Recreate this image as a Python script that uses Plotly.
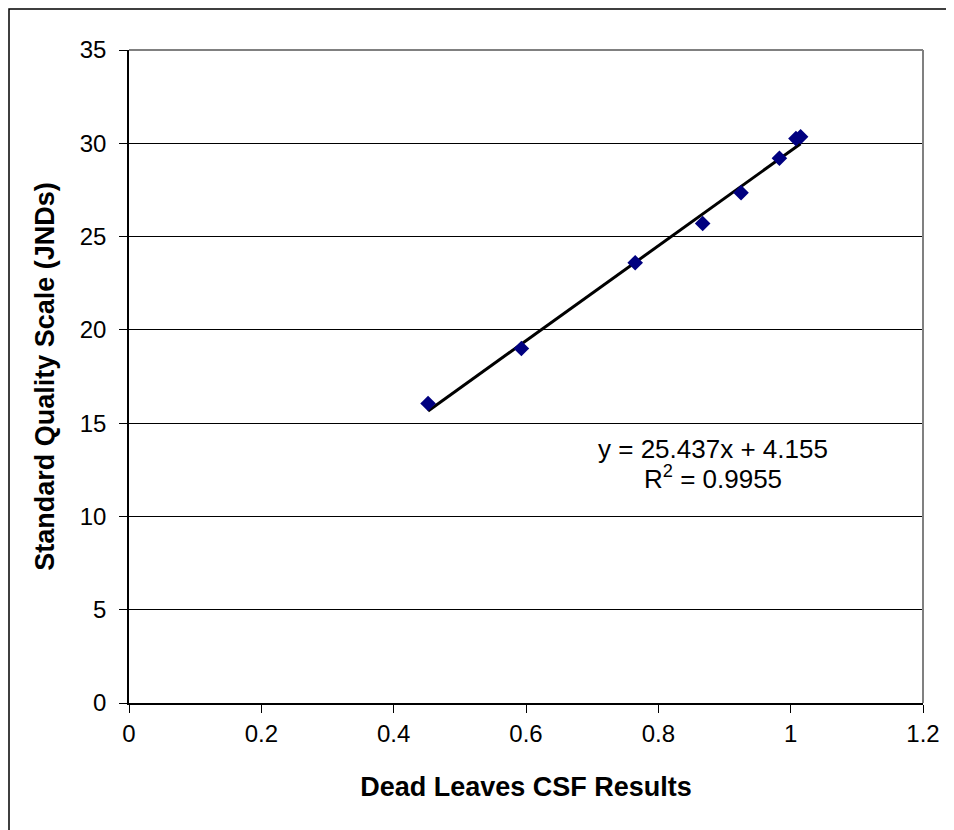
import plotly.graph_objects as go

# ---- data ----
csf_results = [0.452, 0.593, 0.765, 0.867, 0.925, 0.983, 1.008, 1.015]
quality_jnd = [16.05, 19.0, 23.6, 25.7, 27.35, 29.2, 30.25, 30.35]
slope = 25.437
intercept = 4.155
r_squared = 0.9955
x_ticks = [0, 0.2, 0.4, 0.6, 0.8, 1.0, 1.2]
y_ticks = [0, 5, 10, 15, 20, 25, 30, 35]

x_title = "Dead Leaves CSF Results"
y_title = "Standard Quality Scale (JNDs)"
eq_text = f"y = {slope}x + {intercept}"
r2_text = f"R<sup>2</sup> = {r_squared}"

FONT = "Liberation Sans, Arial, sans-serif"

# trendline over data range
x_fit = [min(csf_results), max(csf_results)]
y_fit = [slope * v + intercept for v in x_fit]

fig = go.Figure()
fig.add_trace(go.Scatter(x=x_fit, y=y_fit, mode="lines",
                         line=dict(color="black", width=3),
                         hoverinfo="skip", showlegend=False))
fig.add_trace(go.Scatter(x=csf_results, y=quality_jnd, mode="markers",
                         marker=dict(symbol="diamond", size=12, color="#000080",
                                     line=dict(width=0)),
                         showlegend=False))

W, H = 946, 822
L, R, T, B = 121, 31, 42, 127
pw, ph = W - L - R, H - T - B

def px_to_paper_x(px):
    return (px - L) / pw

def px_to_paper_y(py):
    return (H - B - py) / ph

fig.update_layout(
    width=W, height=H,
    margin=dict(l=L, r=R, t=T, b=B),
    paper_bgcolor="white", plot_bgcolor="white",
    font=dict(family=FONT, color="black", size=24),
    xaxis=dict(range=[0, 1.2], tickvals=x_ticks, showgrid=False,
               showline=True, linecolor="black", linewidth=1.5,
               ticks="outside", ticklen=8, tickcolor="black", tickwidth=1,
               tickfont=dict(size=24, family=FONT), ticklabelstandoff=0,
               title=dict(text=f"<b>{x_title}</b>", font=dict(size=27, family=FONT), standoff=32),
               zeroline=False),
    yaxis=dict(range=[0, 35], tickvals=y_ticks, showgrid=True, gridcolor="black", gridwidth=1,
               showline=True, linecolor="black", linewidth=1.5,
               ticks="outside", ticklen=8, tickcolor="black", tickwidth=1,
               tickfont=dict(size=24, family=FONT), ticklabelstandoff=8,
               title=dict(text=f"<b>{y_title}</b>", font=dict(size=27, family=FONT), standoff=17),
               zeroline=False),
    annotations=[
        dict(x=0.8826, y=13.62, xref="x", yref="y", text=eq_text, showarrow=False,
             font=dict(size=26, family=FONT), xanchor="center", yanchor="middle"),
        dict(x=0.8826, y=12.1, xref="x", yref="y", text=r2_text, showarrow=False,
             font=dict(size=26, family=FONT), xanchor="center", yanchor="middle"),
    ],
    shapes=[
        # plot-area border (gray top and right)
        dict(type="line", xref="paper", yref="paper", x0=0, x1=1, y0=1, y1=1,
             line=dict(color="#808080", width=2)),
        dict(type="line", xref="paper", yref="paper", x0=1, x1=1, y0=0, y1=1,
             line=dict(color="#808080", width=2)),
        # chart-area border (bottom edge lies beyond the visible page)
        dict(type="rect", xref="paper", yref="paper",
             x0=px_to_paper_x(1), x1=px_to_paper_x(940),
             y0=px_to_paper_y(840), y1=px_to_paper_y(1),
             line=dict(color="black", width=1.5), fillcolor="rgba(0,0,0,0)"),
    ],
)

fig.write_html("out.html")
